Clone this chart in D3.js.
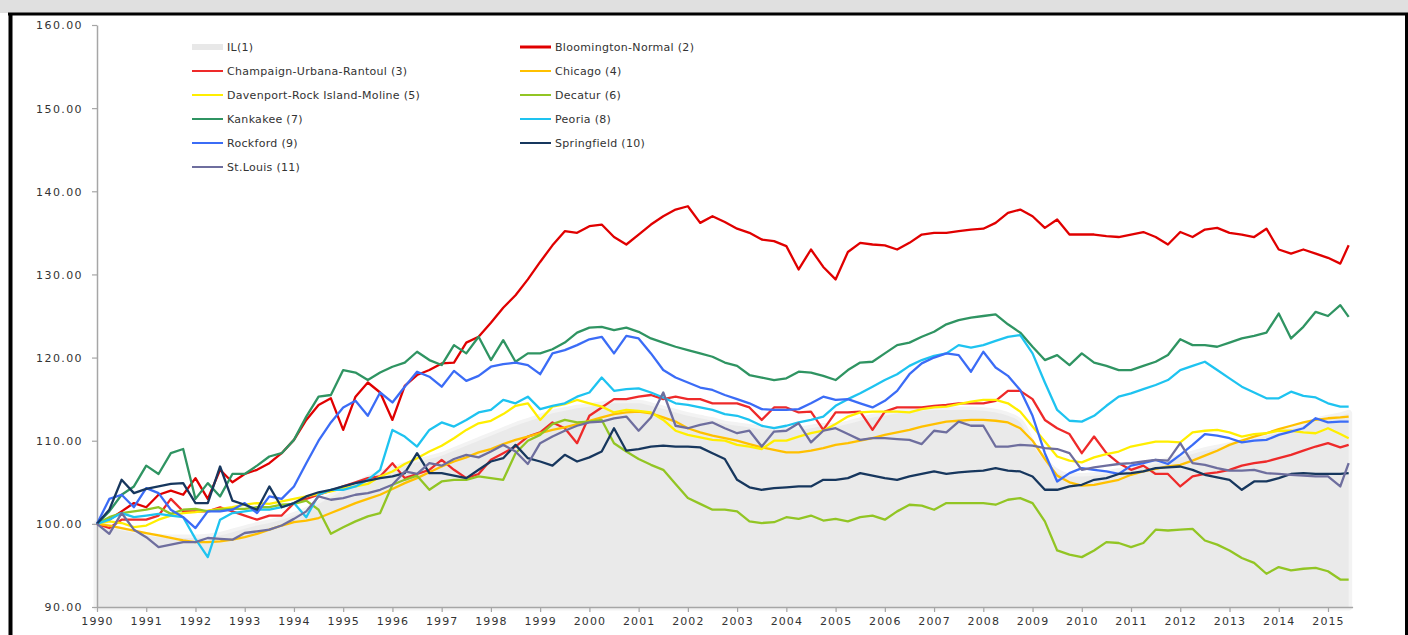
<!DOCTYPE html>
<meta charset="utf-8">
<script src="https://d3js.org/d3.v7.min.js"></script>
<style>
  body { margin: 0; background: #fff; }
  text { font-family: "DejaVu Sans", sans-serif; fill: #333; }
</style>
<body>
<div id="my_dataviz"></div>
<script>

// quarterly observations, last one is the May 2015 reading
var quarters = d3.range(0, 102).map(function (i) { return 1990 + i / 4; }).concat([2015.42]);

var yearLabels = ["1990", "1991", "1992", "1993", "1994", "1995", "1996", "1997", "1998", "1999", "2000", "2001", "2002",
  "2003", "2004", "2005", "2006", "2007", "2008", "2009", "2010", "2011", "2012", "2013", "2014", "2015"];
var yTicks = [90, 100, 110, 120, 130, 140, 150, 160];

var il = [
  100, 99.6, 99.2, 98.9, 98.6, 98.4, 98.3, 98.3, 98.3, 98.4, 98.6, 99,
  99.4, 99.8, 100.1, 100.5, 101, 101.6, 102.4, 103.2, 104, 104.7, 105.4, 106,
  106.5, 107, 107.4, 107.8, 108.2, 108.8, 109.4, 110, 110.6, 111.2, 111.8, 112.3,
  112.8, 113.3, 113.6, 113.9, 114.1, 114.3, 114.5, 114.5, 114.5, 114.2, 113.8, 113.4,
  113, 112.7, 112.4, 112, 111.8, 111.6, 111.4, 111.3, 111.3, 111.3, 111.5, 111.7,
  111.7, 112, 112.4, 112.8, 113, 113.3, 113.5, 113.6, 113.7, 113.7, 113.7, 113.7,
  113.6, 113.4, 113, 112.2, 109.5, 107.5, 106.2, 105.7, 105.7, 105.8, 106, 106.3,
  106.5, 106.8, 107.2, 107.6, 108, 108.4, 108.8, 109.1, 109.4, 109.8, 110.2, 110.6,
  111, 111.4, 111.8, 112.3, 112.7, 113, 113.3];

var bloomington = [
  100, 100.5, 101.5, 102.5, 102, 103.5, 104, 103.5, 105.5, 103, 106.5, 105,
  106, 106.5, 107.3, 108.5, 110.1, 112.5, 114.3, 115.1, 111.3, 115.3, 117, 115.8,
  112.5, 116.6, 117.9, 118.5, 119.3, 119.4, 121.8, 122.5, 124.2, 126, 127.5, 129.4,
  131.5, 133.5, 135.2, 135, 135.8, 136, 134.5, 133.6, 134.8, 136, 137, 137.8,
  138.2, 136.2, 137, 136.3, 135.5, 135, 134.2, 134, 133.4, 130.6, 133, 130.9,
  129.4, 132.7, 133.8, 133.6, 133.5, 133, 133.8, 134.8, 135, 135, 135.2, 135.4,
  135.5, 136.2, 137.4, 137.8, 137, 135.6, 136.6, 134.8, 134.8, 134.8, 134.6, 134.5,
  134.8, 135.1, 134.5, 133.6, 135.1, 134.5, 135.4, 135.6, 135, 134.8, 134.5, 135.5,
  133, 132.5, 133, 132.5, 132, 131.3, 133.5];

var champaign = [
  100, 99.5, 100.5, 100.5, 100.5, 101, 103, 101.5, 101.5, 101.5, 102, 101.5,
  101, 100.5, 101, 101, 102.5, 103, 103.5, 104, 104.5, 105, 105.5, 105.7,
  107.3, 105.5, 106, 106.5, 107.7, 106.5, 105.5, 106, 107.7, 108.5, 109.3, 110.5,
  111, 112.2, 111.5, 109.7, 113, 114, 115, 115, 115.3, 115.5, 115, 115.3,
  115, 115, 114.5, 114.5, 114.5, 114, 112.5, 114, 114, 113.4, 113.5, 111.3,
  113.4, 113.4, 113.5, 111.3, 113.5, 114, 114, 114, 114.2, 114.3, 114.5, 114.5,
  114.5, 114.8, 116, 116, 115, 112.5, 111.5, 110.8, 108.5, 110.5, 108.5, 107.3,
  106.5, 107, 106, 106, 104.5, 105.7, 106, 106.2, 106.5, 107, 107.3, 107.5,
  107.9, 108.3, 108.8, 109.3, 109.7, 109.2, 109.5];

var chicago = [
  100, 99.8, 99.5, 99.2, 98.9, 98.6, 98.3, 98, 97.8, 97.8, 97.9, 98.1,
  98.4, 98.8, 99.3, 99.8, 100.2, 100.4, 100.7, 101.3, 101.9, 102.5, 103, 103.5,
  104.2, 104.9, 105.5, 106.2, 106.9, 107.5, 108, 108.6, 109, 109.6, 110.1, 110.5,
  110.9, 111.3, 111.6, 112, 112.4, 112.8, 113.2, 113.4, 113.5, 113.3, 112.8, 112.3,
  111.5, 111, 110.6, 110.3, 110, 109.6, 109.2, 108.9, 108.6, 108.6, 108.8, 109.1,
  109.5, 109.7, 110, 110.3, 110.7, 111, 111.3, 111.7, 112, 112.3, 112.4, 112.5,
  112.5, 112.4, 112.2, 111.5, 110, 107.8, 105.8, 105, 104.6, 104.7, 105, 105.3,
  105.9, 106.3, 106.6, 106.9, 107.1, 107.6, 108.2, 108.8, 109.5, 110, 110.5, 110.9,
  111.4, 111.8, 112.2, 112.5, 112.7, 112.8, 112.9];

var davenport = [
  100, 100.3, 100.1, 99.6, 99.8, 100.5, 101, 101.3, 101.4, 101.6, 101.8, 102,
  102.3, 102.5, 102.4, 102.7, 103, 103.3, 103.6, 103.9, 104.3, 104.5, 104.8, 105.7,
  106.3, 107.2, 107.9, 108.7, 109.4, 110.3, 111.3, 112.1, 112.4, 113.2, 114.2, 114.5,
  112.5, 114.1, 114.4, 114.9, 114.5, 114.1, 113.4, 113.7, 113.6, 113.4, 112.5, 111.2,
  110.7, 110.4, 110.1, 110, 109.5, 109.3, 109, 110, 110, 110.5, 110.9, 111.2,
  112, 112.9, 113.4, 113.5, 113.5, 113.5, 113.4, 113.8, 114, 114.1, 114.4, 114.7,
  114.9, 114.9, 114.5, 113.5, 111.7, 109.9, 108.1, 107.6, 107.4, 108, 108.4, 108.7,
  109.3, 109.6, 109.9, 109.9, 109.8, 111, 111.2, 111.3, 111, 110.5, 110.8, 110.9,
  111.2, 111.2, 111, 110.9, 111.5, 110.8, 110.3];

var decatur = [
  100, 100.8, 101.3, 101.5, 101.7, 102, 101.2, 101.7, 101.8, 101.5, 101.7, 101.8,
  101.8, 102, 102, 102.3, 102.4, 102.8, 101.7, 98.8, 99.6, 100.3, 100.9, 101.3,
  104.7, 105.3, 105.8, 104.1, 105.1, 105.3, 105.3, 105.7, 105.5, 105.3, 108.5, 110,
  110.7, 112, 112.5, 112.2, 112.3, 112.5, 109.7, 108.7, 107.8, 107.1, 106.5, 104.8,
  103.1, 102.4, 101.7, 101.7, 101.5, 100.3, 100.1, 100.2, 100.8, 100.6, 101, 100.4,
  100.6, 100.3, 100.8, 101, 100.5, 101.5, 102.3, 102.2, 101.7, 102.5, 102.5, 102.5,
  102.5, 102.3, 102.9, 103.1, 102.5, 100.3, 96.8, 96.3, 96, 96.8, 97.8, 97.7,
  97.2, 97.7, 99.3, 99.2, 99.3, 99.4, 98, 97.5, 96.8, 95.9, 95.3, 94,
  94.8, 94.4, 94.6, 94.7, 94.3, 93.3, 93.3];

var kankakee = [
  100, 101.5, 103.5, 104.5, 107, 106, 108.5, 109, 103, 104.9, 103.3, 106,
  106, 107, 108.1, 108.5, 110.1, 112.9, 115.3, 115.5, 118.5, 118.2, 117.3, 118.2,
  118.9, 119.4, 120.7, 119.7, 119.1, 121.5, 120.5, 122.5, 119.7, 122.1, 119.5, 120.5,
  120.5, 121, 121.8, 123, 123.6, 123.7, 123.3, 123.6, 123.1, 122.3, 121.8, 121.3,
  120.9, 120.5, 120.1, 119.4, 119, 117.9, 117.6, 117.3, 117.5, 118.3, 118.2, 117.8,
  117.3, 118.5, 119.4, 119.5, 120.5, 121.5, 121.8, 122.5, 123.1, 124, 124.5, 124.8,
  125, 125.2, 124, 123, 121.3, 119.7, 120.3, 119.1, 120.5, 119.4, 119, 118.5,
  118.5, 119, 119.5, 120.3, 122.2, 121.5, 121.5, 121.3, 121.8, 122.3, 122.6, 123,
  125.3, 122.3, 123.7, 125.5, 125, 126.3, 124.9];

var peoria = [
  100, 100.5, 101.3, 100.8, 101, 101.2, 101, 100.8, 98.2, 96, 100.5, 101.3,
  101.5, 101.7, 101.7, 102, 102.5, 100.8, 103.5, 104.1, 104.1, 104.5, 105.3, 106.5,
  111.3, 110.5, 109.3, 111.3, 112.2, 111.7, 112.5, 113.4, 113.7, 114.9, 114.5, 115.3,
  113.8, 114.2, 114.5, 115.3, 115.8, 117.6, 116, 116.2, 116.3, 115.8, 115.2, 114.5,
  114.3, 114, 113.7, 113.2, 113, 112.5, 111.8, 111.5, 111.8, 112.2, 112.5, 112.9,
  114.2, 115, 115.7, 116.5, 117.3, 118, 119, 119.7, 120.2, 120.5, 121.5, 121.2,
  121.5, 122, 122.5, 122.7, 120.5, 117, 113.7, 112.4, 112.3, 113, 114.2, 115.3,
  115.7, 116.2, 116.7, 117.3, 118.5, 119, 119.5, 118.5, 117.5, 116.5, 115.8, 115.1,
  115.1, 115.9, 115.4, 115.2, 114.5, 114.1, 114.1];

var rockford = [
  100, 103, 103.5, 102, 104.3, 103.7, 101.7, 100.8, 99.5, 101.5, 101.5, 101.7,
  102.5, 101.3, 103.3, 103, 104.5, 107.3, 110, 112.2, 114, 114.8, 113, 115.8,
  114.6, 116.5, 118.3, 117.7, 116.5, 118.4, 117.2, 117.8, 118.9, 119.2, 119.4, 119.1,
  118, 120.5, 120.9, 121.5, 122.2, 122.5, 120.5, 122.6, 122.3, 120.5, 118.5, 117.6,
  117, 116.4, 116.1, 115.5, 115, 114.5, 113.8, 113.7, 113.7, 113.8, 114.5, 115.3,
  114.9, 115, 114.5, 114, 114.8, 116, 118, 119.3, 120, 120.5, 120.3, 118.3,
  120.7, 118.8, 117.8, 116.1, 113, 108.5, 105.1, 106.1, 106.7, 106.5, 106.3, 106,
  107, 107.3, 107.7, 107.2, 108.3, 109.5, 110.8, 110.6, 110.3, 109.8, 110, 110.1,
  110.7, 111.1, 111.5, 112.7, 112.2, 112.3, 112.3];

var springfield = [
  100, 101.7, 105.3, 103.7, 104.2, 104.5, 104.8, 104.9, 102.5, 102.5, 106.9, 102.8,
  102.3, 101.7, 104.5, 102, 102.5, 103.3, 103.8, 104.1, 104.5, 104.9, 105.2, 105.5,
  105.7, 106.1, 108.5, 106.1, 106.1, 105.8, 105.5, 106.5, 107.5, 107.9, 109.5, 107.9,
  107.5, 107, 108.3, 107.5, 108, 108.7, 111.5, 108.8, 109, 109.3, 109.4, 109.3,
  109.3, 109.2, 108.5, 107.8, 105.3, 104.4, 104.1, 104.3, 104.4, 104.5, 104.5, 105.3,
  105.3, 105.5, 106.1, 105.8, 105.5, 105.3, 105.7, 106, 106.3, 106, 106.2, 106.3,
  106.4, 106.7, 106.4, 106.3, 105.7, 104.1, 104.1, 104.5, 104.7, 105.3, 105.5, 106,
  106.1, 106.3, 106.7, 106.8, 106.9, 106.5, 105.9, 105.6, 105.3, 104.1, 105.1, 105.1,
  105.5, 106, 106.1, 106, 106, 106, 106.1];

var stlouis = [
  100, 98.8, 101.3, 99.3, 98.4, 97.2, 97.5, 97.8, 97.8, 98.3, 98.2, 98.1,
  98.9, 99.1, 99.3, 99.8, 100.6, 101.5, 103.3, 102.9, 103.1, 103.5, 103.7, 104.1,
  104.7, 106.3, 106, 107.3, 107, 107.8, 108.3, 108, 108.7, 109.5, 108.7, 107.2,
  109.7, 110.5, 111.2, 111.8, 112.2, 112.3, 112.7, 112.9, 111.2, 112.8, 115.8, 111.8,
  111.5, 111.9, 112.2, 111.5, 110.9, 111.2, 109.3, 111.1, 111.2, 112.1, 109.8, 111.2,
  111.5, 110.8, 110.1, 110.3, 110.3, 110.2, 110.1, 109.6, 111.2, 111, 112.3, 111.8,
  111.8, 109.3, 109.3, 109.5, 109.4, 109.1, 109, 108.5, 106.5, 106.8, 107, 107.2,
  107.3, 107.5, 107.7, 107.6, 109.7, 107.3, 107.1, 106.7, 106.4, 106.4, 106.5, 106.1,
  106, 105.9, 105.8, 105.7, 105.7, 104.5, 107.3];

var seriesNames = ["Bloomington-Normal (2)", "Champaign-Urbana-Rantoul (3)", "Chicago (4)", "Davenport-Rock Island-Moline (5)",
  "Decatur (6)", "Kankakee (7)", "Peoria (8)", "Rockford (9)", "Springfield (10)", "St.Louis (11)"];
var seriesValues = [bloomington, champaign, chicago, davenport, decatur, kankakee, peoria, rockford, springfield, stlouis];
var seriesColors = ["#e00000", "#ee2a2a", "#ffc000", "#ffee00", "#92c524", "#2f9462", "#1ec3f0", "#3b6cf6", "#17375e", "#6e6e9e"];

var W = 1408, H = 635;
var svg = d3.select("#my_dataviz").append("svg")
  .attr("width", W).attr("height", H);

// frame: grey band on top, black border
svg.append("rect").attr("x", 0).attr("y", 0).attr("width", W).attr("height", 13).attr("fill", "#e0e0e0");
svg.append("line").attr("x1", 8).attr("x2", W).attr("y1", 14).attr("y2", 14).attr("stroke", "#000").attr("stroke-width", 3);
svg.append("line").attr("x1", 10.5).attr("x2", 10.5).attr("y1", 13).attr("y2", H).attr("stroke", "#000").attr("stroke-width", 4);
svg.append("line").attr("x1", 1406.5).attr("x2", 1406.5).attr("y1", 13).attr("y2", H).attr("stroke", "#000").attr("stroke-width", 3);

var x = d3.scaleLinear().domain([1990, 2015.5]).range([97, 1352.6]);
var y = d3.scaleLinear().domain([90, 160]).range([607, 25]);

// IL area, with a soft light rim like the original
var ilArea = d3.area()
  .x(function (d, i) { return x(quarters[i]); })
  .y0(y(90))
  .y1(function (d) { return y(d); })
  .curve(d3.curveMonotoneX);
svg.append("path")
  .datum(il)
  .attr("fill", "#f3f3f3")
  .attr("stroke", "#f3f3f3")
  .attr("stroke-width", 7)
  .attr("stroke-linejoin", "round")
  .attr("d", ilArea);
svg.append("path")
  .datum(il)
  .attr("fill", "#eaeaea")
  .attr("d", ilArea);

// Y axis
var yAxis = svg.append("g")
  .attr("transform", "translate(97,0)")
  .call(d3.axisLeft(y).tickValues(yTicks).tickSize(5).tickSizeOuter(0).tickFormat(d3.format(".2f")));
yAxis.select(".domain").attr("stroke", "#a6a6a6").attr("stroke-width", 1.5);
yAxis.selectAll(".tick line").attr("stroke", "#a6a6a6").attr("stroke-width", 1.2);
yAxis.selectAll(".tick text").attr("x", -14).attr("dy", "0.35em")
  .style("font-size", "11px").style("letter-spacing", "1.4px").style("font-family", "DejaVu Sans").attr("fill", "#333");

// X axis
var xAxis = svg.append("g")
  .attr("transform", "translate(0,607)")
  .call(d3.axisBottom(x).tickValues(yearLabels.map(Number)).tickSize(5).tickSizeOuter(0)
    .tickFormat(function (d, i) { return yearLabels[i]; }));
xAxis.select(".domain").attr("stroke", "#a6a6a6").attr("stroke-width", 1.5);
xAxis.selectAll(".tick line").attr("stroke", "#a6a6a6").attr("stroke-width", 1.2);
xAxis.selectAll(".tick text").attr("y", 10)
  .style("font-size", "11px").style("letter-spacing", "1.1px").style("font-family", "DejaVu Sans").attr("fill", "#333");

// lines
var line = d3.line()
  .x(function (d, i) { return x(quarters[i]); })
  .y(function (d) { return y(d); });

seriesValues.forEach(function (vals, k) {
  svg.append("path")
    .datum(vals)
    .attr("fill", "none")
    .attr("stroke", seriesColors[k])
    .attr("stroke-width", 2.3)
    .attr("stroke-linejoin", "round")
    .attr("d", line);
});

// legend
var legendItems = [{ name: "IL(1)", color: "#e8e8e8", area: true }].concat(seriesNames.map(function (n, k) {
  return { name: n, color: seriesColors[k], area: false };
}));
var leg = svg.append("g");
legendItems.forEach(function (d, i) {
  var col = i % 2, row = Math.floor(i / 2);
  var lx = col === 0 ? 192 : 520, ly = 47 + row * 24;
  leg.append("line")
    .attr("x1", lx).attr("x2", lx + 31).attr("y1", ly).attr("y2", ly)
    .attr("stroke", d.color)
    .attr("stroke-width", d.area ? 6 : (i === 1 ? 3 : 2));
  leg.append("text")
    .attr("x", lx + 35).attr("y", ly).attr("dy", "0.35em")
    .style("font-size", "11px")
    .style("letter-spacing", "0.3px")
    .text(d.name);
});

</script>
</body>
